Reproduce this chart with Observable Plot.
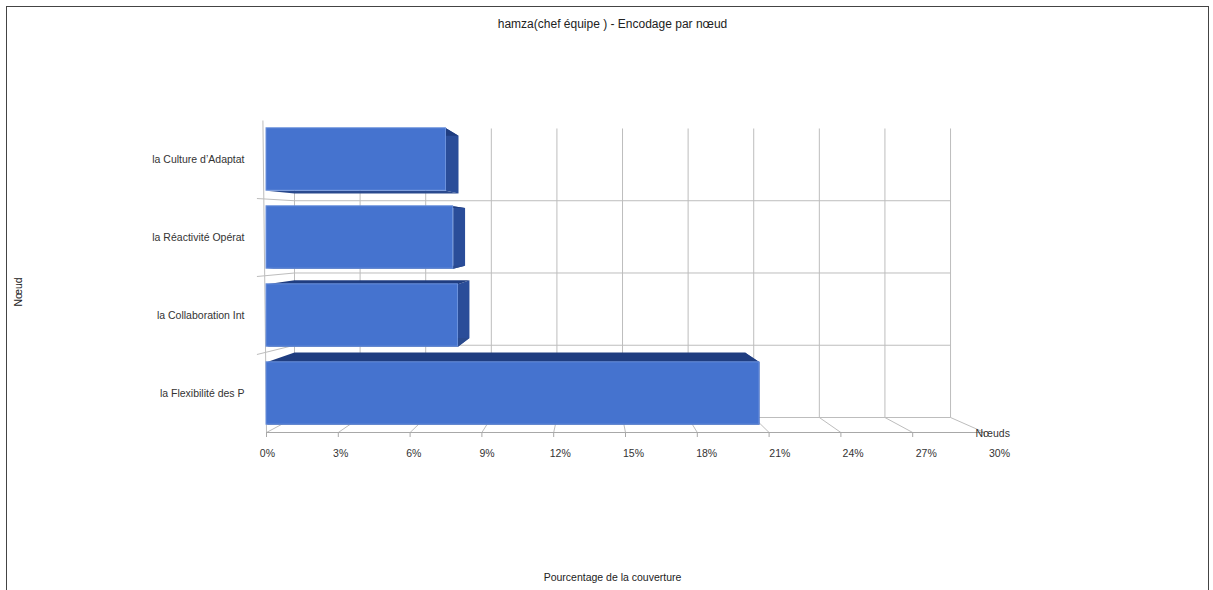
<!DOCTYPE html>
<html>
<head>
<meta charset="utf-8">
<script src="https://cdn.jsdelivr.net/npm/d3@7"></script>
<script src="https://cdn.jsdelivr.net/npm/@observablehq/plot@0.6"></script>
<style>
  html, body { margin: 0; padding: 0; background: #fff; }
  #wrap { position: relative; width: 1213px; height: 590px; overflow: hidden; }
  #border { position: absolute; left: 6px; top: 6px; width: 1201px; height: 620px; border: 1px solid #444; pointer-events: none; }
  svg { font-family: "Liberation Sans", Arial, sans-serif; }
</style>
</head>
<body>
<div id="wrap"><div id="border"></div></div>
<script>
// ---- data (bottom to top) ----
const categories = ["la Flexibilité des P", "la Collaboration Int", "la Réactivité Opérat", "la Culture d’Adaptat"];
const values = [20.6, 8.0, 7.8, 7.5];
const ticks = [0, 3, 6, 9, 12, 15, 18, 21, 24, 27, 30];
const title = "hamza(chef équipe ) - Encodage par nœud";
const xLabel = "Pourcentage de la couverture";
const yLabel = "Nœud";
const depthLabel = "Nœuds";

// ---- 3D projection helpers (back plane expressed in front-plane data units) ----
const BX0 = 1.17, BXK = 0.9137, BY0 = 0.1923, BYK = 0.9263;
const bx = v => BX0 + v * BXK;
const by = t => BY0 + t * BYK;
const LX0 = 0.04, LXK = 1.0195; // tick-label perspective spread

const FRONT = "#4573cf", SIDE = "#2a4d99", TOP = "#1f3d80", BOTTOM = "#2a4a8e", GRID = "#bdbdbd";

const rows = categories.map((c, i) => ({cat: c, value: values[i], i}));
const lo = d => d.i + 0.1, hi = d => d.i + 0.9;
const poly = fn => rows.flatMap(d => fn(d).map(([x, y]) => ({id: d.i, x, y})));
const sidePts = poly(d => [[d.value, lo(d)], [d.value, hi(d)], [bx(d.value), by(hi(d))], [bx(d.value), by(lo(d))]]);
const topPts = poly(d => [[0, hi(d)], [d.value, hi(d)], [bx(d.value), by(hi(d))], [bx(0), by(hi(d))]]);
const botPts = poly(d => [[0, lo(d)], [d.value, lo(d)], [bx(d.value), by(lo(d))], [bx(0), by(lo(d))]]);

const chart = Plot.plot({
  width: 1213,
  height: 590,
  marginLeft: 266,
  marginRight: 229,
  marginTop: 120,
  marginBottom: 158,
  style: {background: "transparent", fontFamily: "'Liberation Sans', Arial, sans-serif"},
  x: {domain: [0, 30], label: null},
  y: {domain: [0, 4], axis: null},
  marks: [
    Plot.link(ticks, {x1: bx, y1: () => by(0), x2: bx, y2: () => by(4), stroke: GRID}),
    Plot.link([0, 1, 2, 3], {x1: () => bx(0), x2: () => bx(30), y1: by, y2: by, stroke: GRID}),
    Plot.link(ticks, {x1: bx, y1: () => by(0), x2: d => d, y2: () => 0, stroke: GRID}),
    Plot.link([1, 2, 3], {x1: () => -0.4, y1: t => t, x2: () => bx(0), y2: by, stroke: GRID}),
    Plot.link([0], {x1: () => -0.15, y1: () => 4, x2: () => 0, y2: () => 0, stroke: GRID}),
    Plot.link([0], {x1: () => 0, x2: () => 30, y1: () => 0, y2: () => 0, stroke: "#a8a8a8"}),
    Plot.axisX(ticks, {tickSize: 5, tickFormat: () => "", stroke: "#a8a8a8", label: null}),
    Plot.line(sidePts, {x: "x", y: "y", z: "id", curve: "linear-closed", fill: SIDE, stroke: "none"}),
    Plot.line(topPts, {x: "x", y: "y", z: "id", curve: "linear-closed", fill: TOP, stroke: "none"}),
    Plot.line(botPts, {x: "x", y: "y", z: "id", curve: "linear-closed", fill: BOTTOM, stroke: "none"}),
    Plot.rect(rows, {x1: () => 0, x2: "value", y1: lo, y2: hi, fill: FRONT, stroke: "#6a90db", strokeWidth: 1}),
    Plot.text(rows, {x: () => 0, y: d => d.i + 0.5, text: "cat", textAnchor: "end", dx: -22, fontSize: 10.5, fill: "#333"}),
    Plot.text(ticks, {x: v => LX0 + v * LXK, y: () => 0, dy: 21, text: v => v + "%", fontSize: 10.5, fill: "#333"}),
    Plot.text([depthLabel], {x: () => 30, y: () => 0, dx: -9, dy: 1, text: d => d, textAnchor: "start", fontSize: 10.5, fill: "#333"}),
    Plot.text([title], {frameAnchor: "top", lineAnchor: "middle", dx: -13, dy: -96, text: d => d, fontSize: 12, fill: "#222"}),
    Plot.text([xLabel], {frameAnchor: "bottom", lineAnchor: "middle", dx: -13, dy: 145, text: d => d, fontSize: 10.5, fill: "#222"}),
    Plot.text([yLabel], {frameAnchor: "left", dx: -248, dy: 30, rotate: -90, text: d => d, fontSize: 10.5, fill: "#222"})
  ]
});
document.getElementById("wrap").prepend(chart);
</script>
</body>
</html>
